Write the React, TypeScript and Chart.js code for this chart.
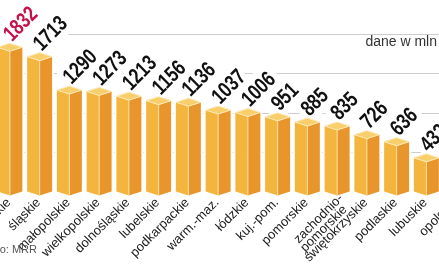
import React, { useEffect, useRef } from "react";
import { Chart, registerables } from "chart.js";

Chart.register(...registerables);

const categories: string[][] = [
  ["mazowieckie"],
  ["śląskie"],
  ["małopolskie"],
  ["wielkopolskie"],
  ["dolnośląskie"],
  ["lubelskie"],
  ["podkarpackie"],
  ["warm.-maz."],
  ["łódzkie"],
  ["kuj.-pom."],
  ["pomorskie"],
  ["zachodnio-", "pomorskie"],
  ["świętokrzyskie"],
  ["podlaskie"],
  ["lubuskie"],
  ["opolskie"],
];

const values: number[] = [1832, 1713, 1290, 1273, 1213, 1156, 1136, 1037, 1006, 951, 885, 835, 726, 636, 432, 395];

const highlightIndex = 0;
const unitLabel = "dane w mln";
const sourceLabel = "Źródło: MRR";

const yTicks = { min: 0, max: 2000, step: 500 };

const OFFSET = 5; // canvas shifted left by this many px (chart is cropped)

const prismPlugin = {
  id: "prism",
  afterDatasetsDraw(chart: any) {
    const ctx: CanvasRenderingContext2D = chart.ctx;
    const meta = chart.getDatasetMeta(0);
    const d = 4;
    const fontV = 'bold 22px "Liberation Sans", Arial, sans-serif';
    const vScale = 0.78;
    const fontC = '13px "Liberation Sans", Arial, sans-serif';

    const labelPos = (el: any) => ({ x: el.x + 2, y: el.y - d - 1 });

    const valueText = (el: any, i: number, mode: "halo" | "fill") => {
      const p = labelPos(el);
      ctx.save();
      ctx.translate(p.x, p.y);
      ctx.rotate(-Math.PI / 4);
      ctx.scale(vScale, 1);
      ctx.font = fontV;
      ctx.textAlign = "left";
      ctx.textBaseline = "alphabetic";
      if (mode === "halo") {
        ctx.lineJoin = "round";
        ctx.strokeStyle = "#ffffff";
        ctx.lineWidth = 14;
        ctx.strokeText(String(values[i]), 0, 0);
      } else {
        ctx.fillStyle = i === highlightIndex ? "#c3124b" : "#111111";
        ctx.fillText(String(values[i]), 0, 0);
      }
      ctx.restore();
    };

    meta.data.forEach((el: any, i: number) => valueText(el, i, "halo"));

    const shapes = meta.data.map((el: any) => {
      const x = el.x;
      const w = el.width;
      const x0 = x - w / 2;
      const x1 = x + w / 2;
      const yc = el.y;
      const base = el.base;
      return {
        top: [[x0, yc], [x, yc - d], [x1, yc], [x, yc + d]],
        left: [[x0, yc], [x, yc + d], [x, base + d], [x0, base]],
        right: [[x, yc + d], [x1, yc], [x1, base], [x, base + d]],
        x, yc, base,
      };
    });

    const poly = (pts: number[][]) => {
      ctx.beginPath();
      pts.forEach((p, k) => (k === 0 ? ctx.moveTo(p[0], p[1]) : ctx.lineTo(p[0], p[1])));
      ctx.closePath();
    };

    // white outlines (cover gaps between bars)
    shapes.forEach((s: any) => {
      ctx.save();
      ctx.strokeStyle = "#ffffff";
      ctx.lineWidth = 4;
      poly([s.top[0], s.top[1], s.top[2], s.right[2], s.right[3], s.left[3]]);
      ctx.stroke();
      ctx.restore();
    });

    shapes.forEach((s: any) => {
      ctx.save();
      poly(s.left);
      ctx.fillStyle = "#f4b53f";
      ctx.fill();
      poly(s.right);
      ctx.fillStyle = "#e8962c";
      ctx.fill();
      poly(s.top);
      ctx.fillStyle = "#f9cf6c";
      ctx.fill();
      ctx.strokeStyle = "#fbe2a6";
      ctx.lineWidth = 1;
      ctx.beginPath();
      ctx.moveTo(s.x, s.yc + d);
      ctx.lineTo(s.x, s.base + d);
      ctx.stroke();
      poly(s.top);
      ctx.strokeStyle = "#fde9b8";
      ctx.stroke();
      ctx.restore();
    });

    meta.data.forEach((el: any, i: number) => valueText(el, i, "fill"));

    // category labels
    meta.data.forEach((el: any, i: number) => {
      const lines = categories[i];
      ctx.save();
      ctx.font = fontC;
      ctx.fillStyle = "#222222";
      ctx.textAlign = "right";
      ctx.textBaseline = "middle";
      lines.forEach((ln, k) => {
        let ax = el.x - 1;
        let ay = el.base + 9;
        if (lines.length > 1) {
          ax = el.x + 4 + k * 4;
          ay = el.base + 5 + k * 11;
        }
        ctx.save();
        ctx.translate(ax, ay);
        ctx.rotate(-Math.PI / 4);
        ctx.fillText(ln, 0, 0);
        ctx.restore();
      });
      ctx.restore();
    });

    // unit label and source
    ctx.save();
    ctx.font = '14px "Liberation Sans", Arial, sans-serif';
    ctx.fillStyle = "#333333";
    ctx.textAlign = "right";
    ctx.textBaseline = "middle";
    ctx.fillText(unitLabel, 437 + OFFSET, 42);
    ctx.font = '11px "Liberation Sans", Arial, sans-serif';
    ctx.fillStyle = "#555555";
    ctx.fillText(sourceLabel, 37 + OFFSET, 250);
    ctx.restore();
  },
};

export default function App() {
  const ref = useRef<HTMLCanvasElement | null>(null);
  useEffect(() => {
    document.body.style.margin = "0";
    if (!ref.current) return;
    const chart = new Chart(ref.current, {
      type: "bar",
      data: {
        labels: categories.map((c) => c.join(" ")),
        datasets: [
          {
            data: values,
            backgroundColor: "rgba(0,0,0,0)",
            borderWidth: 0,
            barPercentage: 0.84,
            categoryPercentage: 1,
          },
        ],
      },
      options: {
        animation: false,
        responsive: false,
        maintainAspectRatio: false,
        layout: { padding: { top: 34, bottom: 76, left: 0, right: 0 } },
        plugins: { legend: { display: false }, tooltip: { enabled: false } },
        scales: {
          x: { display: false, grid: { display: false } },
          y: {
            min: yTicks.min,
            max: yTicks.max,
            ticks: { stepSize: yTicks.step, display: false },
            grid: {
              color: (c: any) => (c.tick && c.tick.value === 0 ? "rgba(0,0,0,0)" : "#cccccc"),
              drawTicks: false,
              lineWidth: 1,
            },
            border: { display: false },
            afterFit: (s: any) => {
              s.width = 0;
            },
          },
        },
      },
      plugins: [prismPlugin],
    });
    return () => chart.destroy();
  }, []);
  return (
    <div style={{ width: 439, height: 268, overflow: "hidden", position: "relative", background: "#fff" }}>
      <canvas ref={ref} width={476} height={268} style={{ position: "absolute", left: -OFFSET, top: 0 }} />
    </div>
  );
}
